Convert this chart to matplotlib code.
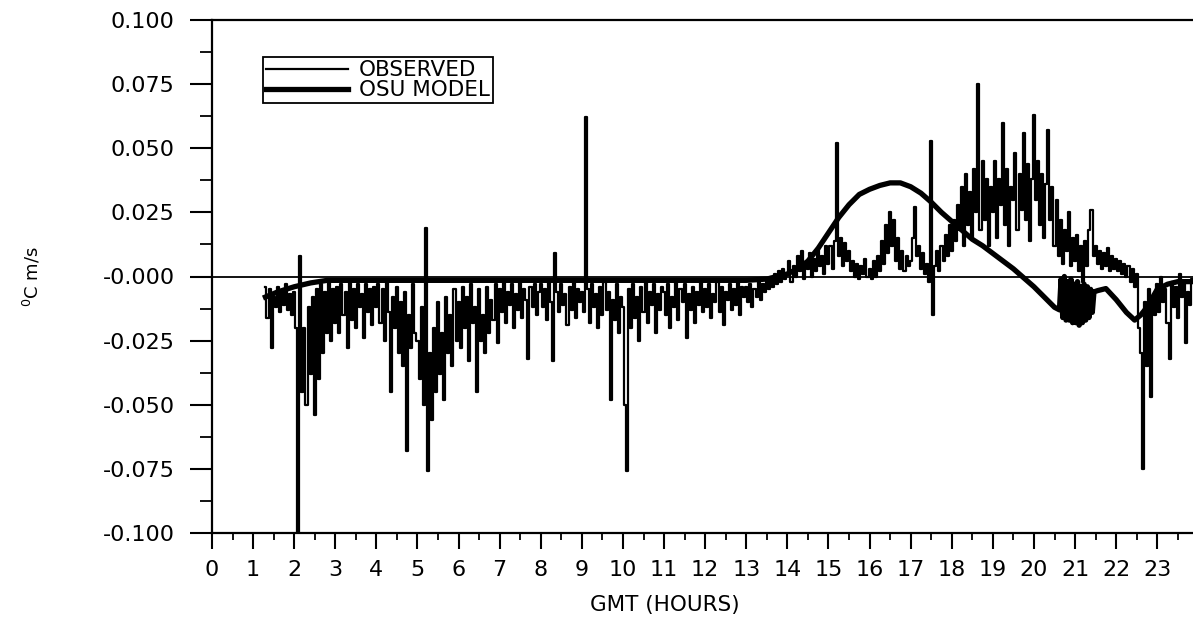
import numpy as np
import matplotlib.pyplot as plt
from matplotlib.ticker import MultipleLocator, FuncFormatter

# observed flux, units of 0.001 degC m/s, sampled every 0.05 h starting 1.30 GMT
obs_h01 = [-4, -16, -5, -28, -8, -12, -4, -14, -6, -11, -3, -13, -7, -15]
obs_h02 = [-6, -20, -100, 8, -45, -20, -50, -12, -38, -8, -54, -5, -40, -3, -30, -6, -22, -2, -25, -5]
obs_h03 = [-18, -4, -22, -3, -15, -6, -28, -2, -17, -5, -20, -3, -12, -7, -24, -3, -14, -5, -19, -4]
obs_h04 = [-12, -3, -18, -5, -25, -2, -14, -45, -8, -20, -4, -30, -10, -35, -6, -68, -15, -28, -3, -22]
obs_h05 = [-25, -40, -12, -50, 19, -76, -30, -56, -20, -45, -10, -38, -22, -48, -8, -30, -15, -35, -5, -25]
obs_h06 = [-10, -28, -4, -20, -8, -33, -3, -18, -12, -45, -5, -25, -15, -30, -4, -22, -9, -17, -3, -26]
obs_h07 = [-5, -14, -2, -18, -6, -11, -3, -20, -7, -13, -2, -16, -5, -9, -32, -4, -12, -3, -15, -6]
obs_h08 = [-3, -12, -5, -17, -2, -10, -33, 9, -6, -14, -3, -11, -7, -19, -4, -13, -2, -16, -5, -10]
obs_h09 = [-6, -14, 62, -5, -18, -3, -12, -7, -20, -4, -15, -2, -13, -6, -48, -9, -17, -3, -22, -8]
obs_h10 = [-12, -50, -76, -5, -20, -3, -16, -8, -25, -4, -14, -2, -18, -6, -11, -3, -22, -7, -13, -4]
obs_h11 = [-6, -15, -3, -20, -8, -12, -2, -17, -5, -10, -3, -24, -7, -13, -4, -18, -6, -11, -2, -14]
obs_h12 = [-5, -12, -3, -16, -7, -10, -2, -14, -4, -19, -6, -9, -3, -13, -5, -11, -2, -15, -4, -8]
obs_h13 = [-4, -10, -3, -12, -5, -8, -2, -9, -3, -6, -1, -5, 0, -4, 1, -3, 2, -2, 3, -1]
obs_h14 = [1, 6, -2, 4, 0, 8, 2, 10, -1, 5, 3, 9, 0, 7, 2, 11, 4, 8, 1, 12]
obs_h15 = [5, 12, 3, 14, 52, 8, 15, 4, 13, 6, 10, 2, 6, 0, 5, -1, 4, 1, 7, 0]
obs_h16 = [3, -1, 6, 0, 8, 2, 14, 5, 20, 9, 25, 12, 22, 6, 15, 3, 10, 2, 8, 4]
obs_h17 = [6, 15, 27, 8, 12, 3, 9, 1, 5, -2, 53, -15, 4, 10, 2, 12, 6, 16, 8, 20]
obs_h18 = [10, 22, 14, 28, 18, 35, 12, 40, 20, 33, 15, 42, 25, 75, 18, 45, 22, 38, 12, 35]
obs_h19 = [25, 45, 15, 38, 28, 60, 20, 42, 12, 35, 30, 48, 18, 40, 26, 56, 22, 44, 14, 38]
obs_h20 = [63, 30, 45, 20, 40, 15, 36, 57, 22, 35, 12, 30, 8, 22, 5, 18, 10, 25, 4, 15]
obs_h21 = [6, 16, 2, 12, -2, 14, 4, 18, 26, 8, 12, 5, 10, 3, 9, 4, 11, 2, 8, 3]
obs_h22 = [7, 2, 6, 1, 5, 0, 4, -2, 3, -4, 1, -20, -30, -75, -10, -35, -5, -47, -8, -15]
obs_h23 = [-3, -14, 0, -10, -5, -18, -32, -2, -12, -4, -16, 1, -8, -3, -26, -6, -11, -1]

# OSU model flux, units of 0.001 degC m/s
model_hours = [1.30, 1.60, 2.00, 2.40, 2.80, 3.50, 5.00, 7.00, 9.00, 11.00, 13.00, 13.50,
               14.00, 14.25, 14.50, 14.75, 15.00, 15.25, 15.50, 15.75, 16.00, 16.25,
               16.50, 16.75, 17.00, 17.25, 17.50, 17.75, 18.00, 18.25, 18.50, 18.75,
               19.00, 19.25, 19.50, 19.75, 20.00, 20.25, 20.50,
               20.62, 20.66, 20.70, 20.74, 20.78, 20.82, 20.86, 20.90, 20.94, 20.98,
               21.02, 21.06, 21.10, 21.14, 21.18, 21.22, 21.26, 21.30, 21.34, 21.38,
               21.42, 21.46,
               21.55, 21.75, 22.00, 22.25, 22.45, 22.60, 22.75, 23.00, 23.25, 23.50, 23.85]
model_vals = [-8, -6, -4, -2.5, -1.5, -1.5, -1.5, -1.5, -1.5, -1.5, -1.5, -1,
              1, 3, 6, 11, 17, 23, 28, 32, 34, 35.5,
              36.5, 36.5, 35, 32.5, 29, 25, 21.5, 18, 14.5, 12,
              9, 6, 3, -0.5, -4, -8, -12,
              -13, -1, -16, 0, -17, -2, -17, -1, -18, -3,
              -18, -2, -19, -4, -18, -3, -17, -4, -16, -5,
              -14, -6,
              -5.5, -4.7, -9, -14, -17, -15, -12, -5, -3, -2, -2]

obs_blocks = [obs_h01, obs_h02, obs_h03, obs_h04, obs_h05, obs_h06, obs_h07, obs_h08,
              obs_h09, obs_h10, obs_h11, obs_h12, obs_h13, obs_h14, obs_h15, obs_h16,
              obs_h17, obs_h18, obs_h19, obs_h20, obs_h21, obs_h22, obs_h23]
observed = np.concatenate(obs_blocks) / 1000.0
obs_hours = 1.30 + 0.05 * np.arange(len(observed))
model = np.array(model_vals) / 1000.0

fig = plt.figure(figsize=(11.93, 6.33), dpi=100)
ax = fig.add_axes([212 / 1193, 100 / 633, 981 / 1193, 513 / 633])

# step drawing keeps the noisy record as a dense band of vertical strokes
ax.plot(obs_hours, observed, color='black', lw=1.6, drawstyle='steps-mid',
        label='OBSERVED')
ax.plot(model_hours, model, color='black', lw=3.8, label='OSU MODEL')
ax.axhline(0, color='black', lw=1.3)

ax.set_xlim(0, 23.87)
ax.set_ylim(-0.1, 0.1)
ax.xaxis.set_major_locator(MultipleLocator(1))
ax.xaxis.set_minor_locator(MultipleLocator(0.5))
ax.yaxis.set_major_locator(MultipleLocator(0.025))
ax.yaxis.set_minor_locator(MultipleLocator(0.0125))
ax.yaxis.set_major_formatter(FuncFormatter(
    lambda v, _: '-0.000' if abs(v) < 1e-9 else '%.3f' % v))

for side in ['left', 'bottom', 'top']:
    ax.spines[side].set_linewidth(1.6)
ax.spines['right'].set_visible(False)

ax.tick_params(axis='x', which='major', direction='out', length=11.5, width=1.5,
               labelsize=16, pad=8)
ax.tick_params(axis='x', which='minor', direction='out', length=5, width=1.3)
ax.tick_params(axis='y', which='major', direction='out', length=16, width=1.5,
               labelsize=16, pad=11)
ax.tick_params(axis='y', which='minor', direction='out', length=9, width=1.3)

ax.set_xlabel('GMT (HOURS)', fontsize=15.5)
ax.xaxis.set_label_coords(0.462, -0.12)
ax.set_ylabel(r'$^{0}$C m/s', fontsize=13)
ax.yaxis.set_label_coords(-0.173, 0.5)

leg = ax.legend(loc='upper left', bbox_to_anchor=(0.052, 0.928), fontsize=15.5,
                handlelength=3.8, handletextpad=0.5, labelspacing=0.0,
                borderpad=0.15, borderaxespad=0, fancybox=False, framealpha=1)
leg.get_frame().set_edgecolor('black')
leg.get_frame().set_linewidth(1.3)

fig.savefig('out.png', dpi=100)
